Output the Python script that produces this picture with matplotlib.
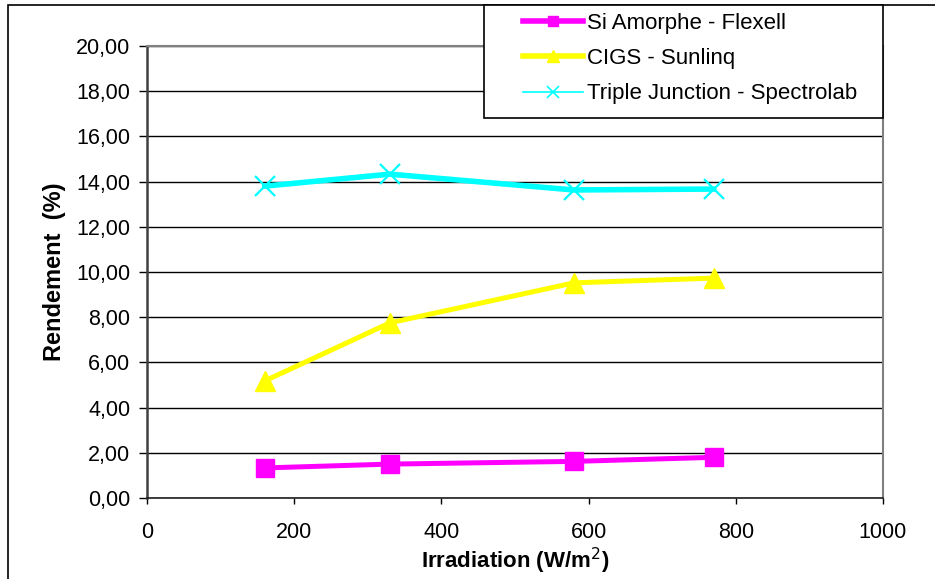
import matplotlib
matplotlib.use('Agg')
import matplotlib.pyplot as plt
from matplotlib.lines import Line2D
from matplotlib.patches import Rectangle
from matplotlib.ticker import FuncFormatter

# irradiation (W/m2) and efficiency (%)
irradiation = [160, 330, 580, 770]
si_amorphe = [1.33, 1.50, 1.62, 1.80]
cigs = [5.18, 7.75, 9.52, 9.73]
triple = [13.80, 14.33, 13.63, 13.67]

labels = ["Si Amorphe - Flexell", "CIGS - Sunlinq", "Triple Junction - Spectrolab"]
colors = ["#FF00FF", "#FFFF00", "#00FFFF"]

plt.rcParams['font.family'] = ['Liberation Sans', 'DejaVu Sans']

W, H = 935, 579
fig = plt.figure(figsize=(W / 100, H / 100), dpi=100)
ax = fig.add_axes([147 / W, 1 - 498 / H, (883 - 147) / W, (498 - 46) / H])

ax.plot(irradiation, si_amorphe, color=colors[0], lw=3.6, marker='s',
        ms=13.5, mec=colors[0], zorder=3)
ax.plot(irradiation, cigs, color=colors[1], lw=3.6, marker='^',
        ms=15, mec=colors[1], zorder=3)
ax.plot(irradiation, triple, color=colors[2], lw=4, marker='x',
        ms=14, mew=1.6, zorder=3)

ax.set_xlim(0, 1000)
ax.set_ylim(0, 20)
ax.set_xticks(range(0, 1001, 200))
ax.set_yticks(range(0, 21, 2))
ax.yaxis.set_major_formatter(FuncFormatter(lambda v, p: f"{v:.2f}".replace('.', ',')))
ax.grid(axis='y', color='black', lw=1)
ax.set_axisbelow(True)

for side in ('top', 'right'):
    ax.spines[side].set_color('#808080')
    ax.spines[side].set_linewidth(1.5)
ax.spines['left'].set_color('#404040')
ax.spines['left'].set_linewidth(1.8)
ax.spines['bottom'].set_color('#202020')
ax.spines['bottom'].set_linewidth(1.2)

ax.tick_params(direction='out', width=1, labelsize=15.5)
ax.tick_params(axis='x', length=4.5, pad=13)
ax.tick_params(axis='y', length=6, pad=6)
ax.set_xlabel("Irradiation (W/m$^2$)", fontsize=16, fontweight='bold', labelpad=2)
ax.set_ylabel("Rendement  (%)", fontsize=17, fontweight='bold', labelpad=7)

# outer chart border (cropped on the right and bottom)
fig.patches.append(Rectangle((8 / W, -0.1), 1.2, 1 - 5 / H + 0.1, transform=fig.transFigure,
                             fill=False, edgecolor='black', lw=1.2, zorder=0))

# legend box
fig.patches.append(Rectangle((484 / W, 1 - 118 / H), (883 - 484) / W, (118 - 5) / H,
                             transform=fig.transFigure, facecolor='white',
                             edgecolor='black', lw=1.2, zorder=5))
handles = [
    Line2D([], [], color=colors[0], lw=4, marker='s', ms=7, mec=colors[0]),
    Line2D([], [], color=colors[1], lw=4, marker='^', ms=8, mec=colors[1]),
    Line2D([], [], color=colors[2], lw=1.2, marker='x', ms=9, mew=1.2),
]
leg = fig.legend(handles, labels, loc='upper left', bbox_to_anchor=(523 / W, 1 - 13 / H),
                 frameon=False, fontsize=16, handlelength=2.7, handletextpad=0.18,
                 labelspacing=0.64, borderpad=0, borderaxespad=0)
leg.set_zorder(6)

fig.savefig("out.png", dpi=100)
